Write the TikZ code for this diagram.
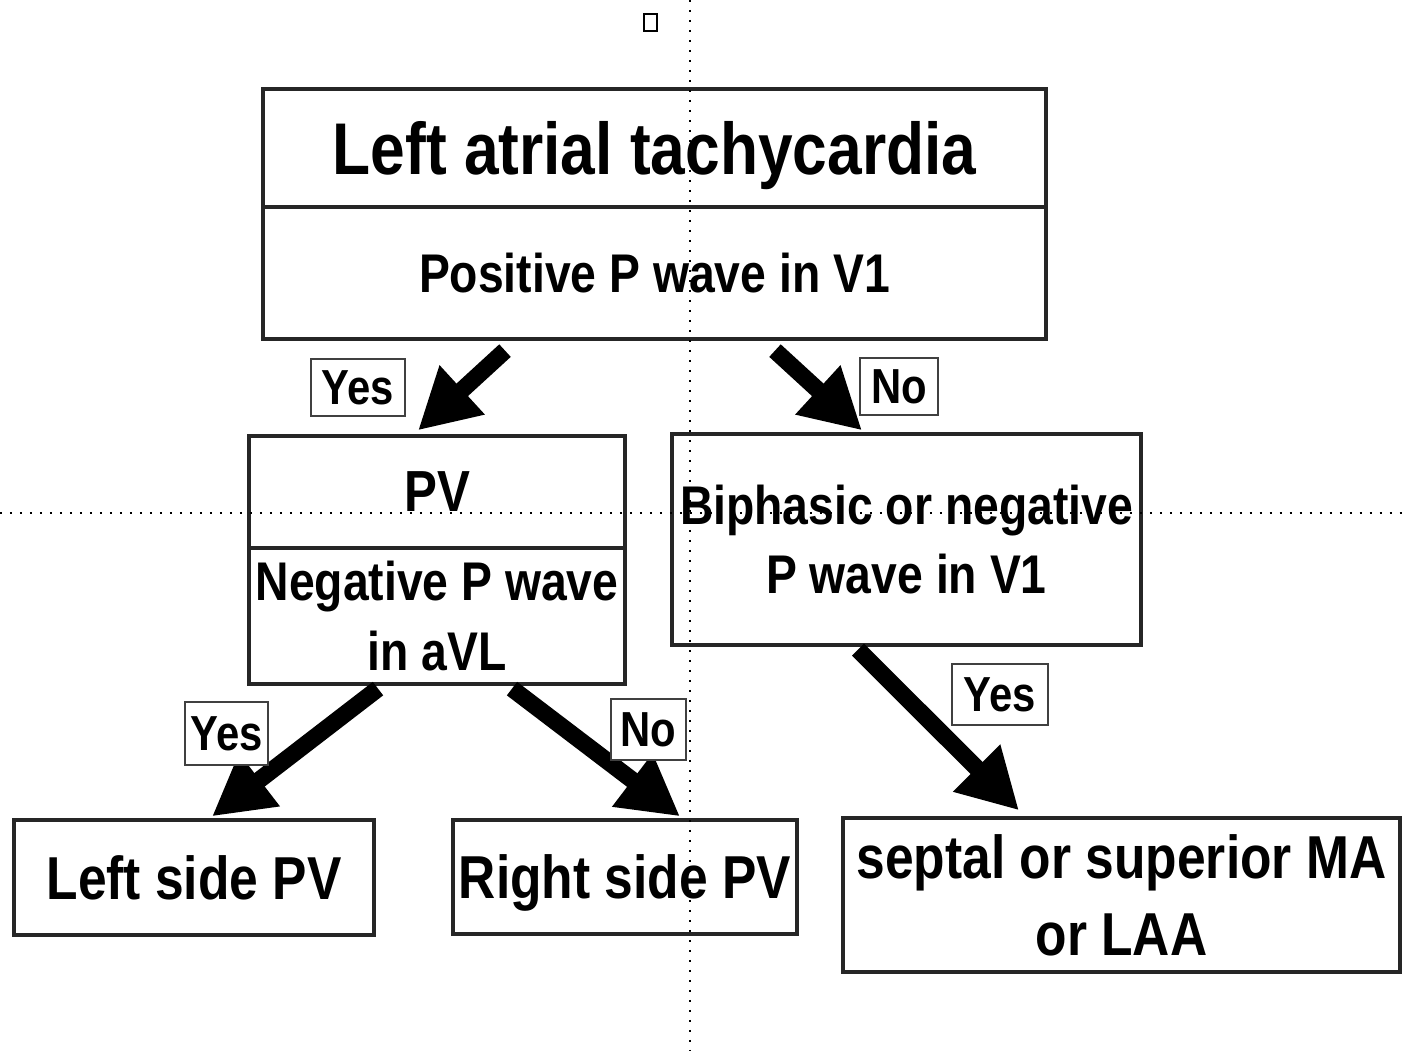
\documentclass[tikz,border=0pt]{standalone}
\usepackage{fontspec}
\setmainfont[FakeStretch=0.85]{Liberation Sans}
\usetikzlibrary{arrows.meta,calc}

\begin{document}
\begin{tikzpicture}[x=0.02cm, y=-0.02cm,
  every node/.style={inner sep=0pt, align=center},
  box/.style={draw=black!85, line width=0.065cm, fill=white, text depth=0pt},
  lbl/.style={draw=black!75, line width=0.05cm, fill=white, text depth=0pt, font=\bfseries\fontsize{28}{30}\selectfont},
  bigarrow/.style={line width=0.34cm, -{Triangle[length=1.2cm, width=1.25cm]}},
  guide/.style={line width=0.05cm, dash pattern=on 0.05cm off 0.15cm}]
\useasboundingbox (0,0) rectangle (1402,1051);
% boxes
\node[box, minimum width=15.66cm, minimum height=2.36cm, font=\bfseries\fontsize{41.7}{46}\selectfont] (lat) at (654.5,148) {Left atrial tachycardia};
\node[box, minimum width=15.66cm, minimum height=2.64cm, font=\bfseries\fontsize{31}{38}\selectfont] (posv) at (654.5,273) {Positive P wave in V1};
\node[box, minimum width=7.52cm, minimum height=2.24cm, font=\bfseries\fontsize{33}{38}\selectfont] (pv) at (437,492) {PV};
\node[box, minimum width=7.52cm, minimum height=2.72cm, font=\bfseries\fontsize{31}{40}\selectfont] (negavl) at (437,616) {Negative P wave\\in aVL};
\node[box, minimum width=9.38cm, minimum height=4.22cm, font=\bfseries\fontsize{31}{39}\selectfont] (bineg) at (906.5,539.5) {Biphasic or negative\\P wave in V1};
\node[box, minimum width=7.2cm, minimum height=2.3cm, font=\bfseries\fontsize{34.5}{44}\selectfont] (leftpv) at (194,877.5) {Left side PV};
\node[box, minimum width=6.88cm, minimum height=2.28cm, font=\bfseries\fontsize{34.5}{44}\selectfont] (rightpv) at (625,877) {Right side PV};
\node[box, minimum width=11.14cm, minimum height=3.08cm, font=\bfseries\fontsize{34.5}{44}\selectfont] (mala) at (1121.5,895) {septal or superior MA\\or LAA};
% arrows
\draw[bigarrow] ($(posv.south)+(-149.5,10)$) -- ($(pv.north)+(-19,-4)$);
\draw[bigarrow] ($(posv.south)+(120.5,10)$) -- ($(bineg.north)+(-44.5,-2)$);
\draw[bigarrow] ($(negavl.south)+(-59,3)$) -- ($(leftpv.north)+(18,-2)$);
\draw[bigarrow] ($(negavl.south)+(75,3)$) -- ($(rightpv.north)+(55,-2)$);
\draw[bigarrow] ($(bineg.south)+(-48.5,3)$) -- ($(mala.north)+(-102.5,-6)$);
% yes / no
\node[lbl, minimum width=1.88cm, minimum height=1.14cm] (yes1) at (358,387.5) {Yes};
\node[lbl, minimum width=1.56cm, minimum height=1.14cm] (no1) at (899,386.5) {No};
\node[lbl, minimum width=1.66cm, minimum height=1.26cm] (yes2) at (226.5,733.5) {Yes};
\node[lbl, minimum width=1.5cm, minimum height=1.22cm] (no2) at (648.5,729.5) {No};
\node[lbl, minimum width=1.92cm, minimum height=1.22cm] (yes3) at (1000,694.5) {Yes};
% guides
\draw[line width=0.05cm] (644,14) rectangle (657,31);
\draw[guide] (690,0) -- (690,1051);
\draw[guide] (0,513) -- (1402,513);
\end{tikzpicture}
\end{document}
